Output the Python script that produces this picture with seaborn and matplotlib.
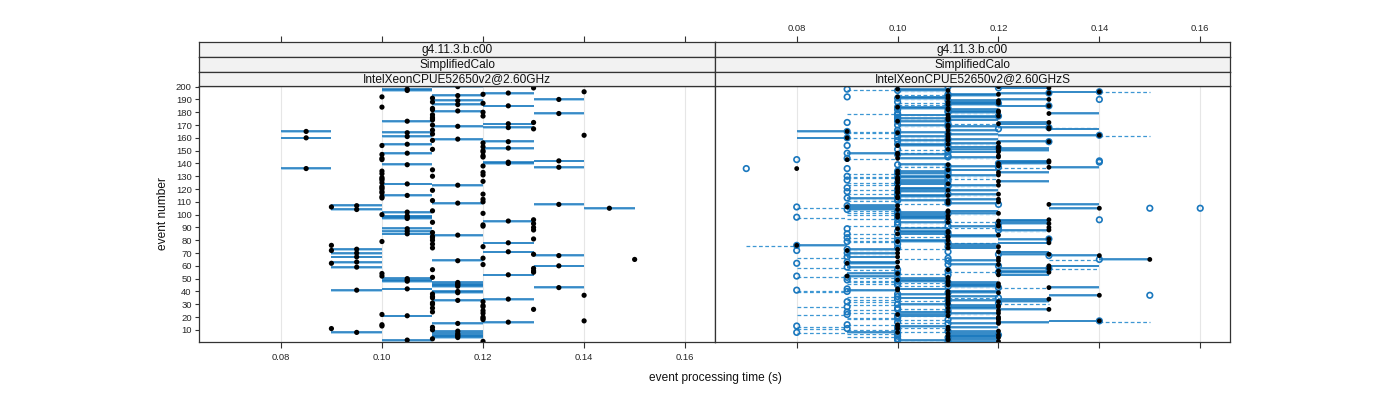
import numpy as np
import pandas as pd
import matplotlib
matplotlib.use("Agg")
import matplotlib.pyplot as plt
import seaborn as sns

sns.set_theme(style="white")
plt.rcParams['font.family'] = ['Liberation Sans', 'DejaVu Sans']

# ---------------- data ----------------
strip_top = "g4.11.3.b.c00"
strip_mid = "SimplifiedCalo"
panel_names = ["IntelXeonCPUE52650v2@2.60GHz", "IntelXeonCPUE52650v2@2.60GHzS"]
x_ticks = [0.08, 0.10, 0.12, 0.14, 0.16]
x_tick_labels = ["0.08", "0.10", "0.12", "0.14", "0.16"]
y_ticks = list(range(10, 201, 10))
events = list(range(1, 201))

# left panel: per-event time (ms) and its range
left_time_ms = [
    120,105,110,115,115,115,115,95,115,110,
    90,110,100,100,115,125,140,120,120,120,
    105,100,120,110,120,130,110,120,120,110,
    110,120,115,125,110,110,140,110,115,115,
    95,105,135,115,115,115,115,105,105,105,
    110,100,125,100,130,130,110,130,95,135,
    120,90,95,115,150,120,95,135,130,95,
    125,90,95,110,120,90,110,125,100,110,
    130,110,110,115,105,110,105,130,105,130,
    120,120,130,110,125,130,105,105,105,100,
    120,105,110,95,145,90,95,135,115,120,
    110,120,100,100,105,120,100,100,110,100,
    100,100,115,105,100,120,100,100,100,110,
    120,100,120,100,110,85,135,120,105,125,
    125,135,100,100,120,120,100,105,120,120,
    110,125,120,100,105,120,125,110,115,85,
    105,140,110,105,85,110,130,125,115,110,
    125,130,105,110,110,110,120,110,135,120,
    115,110,110,100,125,115,120,110,115,135,
    110,100,115,120,125,140,105,105,130,115]
left_lo_ms = [
    120,100,110,110,110,110,110,90,110,110,
    90,110,100,100,110,120,140,120,120,120,
    100,100,120,110,120,130,110,120,120,110,
    110,120,110,120,110,110,140,110,110,110,
    90,100,130,110,110,110,110,100,100,100,
    110,100,120,100,130,130,110,130,90,130,
    120,90,90,110,150,120,90,130,130,90,
    120,90,90,110,120,90,110,120,100,110,
    130,110,110,110,100,110,100,130,100,130,
    120,120,130,110,120,130,100,100,100,100,
    120,100,110,90,140,90,90,130,110,120,
    110,120,100,100,100,120,100,100,110,100,
    100,100,110,100,100,120,100,100,100,110,
    120,100,120,100,110,80,130,120,100,120,
    120,130,100,100,120,120,100,100,120,120,
    110,120,120,100,100,120,120,110,110,80,
    100,140,110,100,80,110,130,120,110,110,
    120,130,100,110,110,110,120,110,130,120,
    110,110,110,100,120,110,120,110,110,130,
    110,100,110,120,120,140,100,100,130,110]
left_hi_ms = [
    120,110,110,120,120,120,120,100,120,110,
    90,110,100,100,120,130,140,120,120,120,
    110,100,120,110,120,130,110,120,120,110,
    110,120,120,130,110,110,140,110,120,120,
    100,110,140,120,120,120,120,110,110,110,
    110,100,130,100,130,130,110,130,100,140,
    120,90,100,120,150,120,100,140,130,100,
    130,90,100,110,120,90,110,130,100,110,
    130,110,110,120,110,110,110,130,110,130,
    120,120,130,110,130,130,110,110,110,100,
    120,110,110,100,150,90,100,140,120,120,
    110,120,100,100,110,120,100,100,110,100,
    100,100,120,110,100,120,100,100,100,110,
    120,100,120,100,110,90,140,120,110,130,
    130,140,100,100,120,120,100,110,120,120,
    110,130,120,100,110,120,130,110,120,90,
    110,140,110,110,90,110,130,130,120,110,
    130,130,110,110,110,110,120,110,140,120,
    120,110,110,100,130,120,120,110,120,140,
    110,100,120,120,130,140,110,110,130,120]

# right panel: black point, end of solid segment, open point, end of dashed segment (ms)
right_black_ms = [
    120,110,110,120,110,120,110,100,120,110,
    100,110,100,100,120,120,140,120,120,120,
    110,100,120,110,120,130,110,120,120,110,
    110,120,110,130,110,110,140,110,120,110,
    100,100,130,120,110,120,110,110,100,110,
    110,90,120,100,130,120,110,130,100,130,
    120,90,100,120,150,120,100,140,130,100,
    120,90,100,110,120,80,110,130,100,110,
    130,110,110,120,100,110,110,130,100,130,
    120,120,130,110,120,130,110,100,110,100,
    120,110,110,100,140,90,100,130,110,120,
    110,120,100,100,110,120,100,100,110,100,
    100,100,120,110,100,120,100,100,100,110,
    120,100,120,100,110,80,130,120,110,120,
    130,130,90,100,120,120,100,100,120,120,
    110,120,120,100,110,120,130,110,110,90,
    110,140,110,100,90,110,130,130,110,110,
    120,130,100,110,110,110,120,110,130,120,
    120,110,110,100,130,110,120,110,120,130,
    110,100,110,120,130,140,110,100,130,120]
right_solid_end_ms = [
    110,100,120,110,120,110,120,90,110,110,
    100,120,110,100,110,130,130,120,110,120,
    100,110,110,100,120,120,120,110,110,100,
    110,130,120,120,100,120,130,100,110,120,
    90,110,140,110,120,110,120,100,110,100,
    110,100,130,90,120,130,110,120,90,140,
    110,100,90,110,140,120,90,130,120,90,
    130,90,90,120,110,90,120,120,110,100,
    120,110,120,110,110,100,100,120,110,130,
    110,120,120,100,130,120,100,110,100,110,
    110,100,120,90,130,100,90,140,120,120,
    100,110,90,110,100,110,100,110,120,110,
    110,100,110,100,110,130,110,100,110,100,
    110,110,130,110,120,80,140,110,100,130,
    120,120,90,110,110,120,110,90,110,130,
    120,130,110,110,100,110,120,100,120,80,
    100,120,120,110,80,120,140,120,120,100,
    130,120,110,120,100,120,110,100,140,110,
    110,120,100,110,120,120,110,120,110,120,
    100,110,120,110,120,130,100,110,120,110]
right_open_ms = [
    110,100,100,110,100,120,100,80,110,100,
    90,100,80,90,110,100,140,110,100,100,
    100,90,110,90,110,100,100,90,110,100,
    120,90,110,100,120,100,150,100,110,90,
    80,90,120,110,100,100,110,100,90,100,
    90,80,110,100,120,110,100,130,90,120,
    110,80,90,110,140,110,90,130,120,90,
    110,80,90,100,110,80,100,110,90,100,
    130,90,100,110,90,110,100,120,90,120,
    110,100,120,100,110,140,100,80,100,100,
    110,100,100,90,150,80,90,120,110,110,
    100,100,90,100,100,110,100,90,100,100,
    90,110,110,100,100,110,90,110,100,90,
    110,100,110,100,110,70,120,110,100,120,
    140,140,80,90,110,110,100,90,110,110,
    100,120,110,90,100,110,130,100,110,90,
    100,140,110,100,90,100,120,130,110,100,
    110,90,100,110,100,100,120,100,100,110,
    110,100,110,100,130,110,120,100,110,140,
    100,90,110,110,130,140,100,90,120,110]
right_dash_end_ms = [
    110,110,100,120,90,120,90,90,100,90,
    80,110,90,100,110,110,150,100,90,90,
    110,80,120,100,100,90,110,80,120,90,
    130,100,100,90,110,90,150,100,110,80,
    90,100,130,120,110,90,100,90,100,110,
    100,90,110,110,120,120,90,140,80,120,
    110,80,100,110,130,100,80,130,120,100,
    110,80,100,110,120,70,100,120,100,90,
    130,100,110,120,100,110,110,130,90,110,
    100,90,120,110,120,140,90,90,100,90,
    120,90,90,100,150,90,90,120,100,110,
    90,110,100,110,110,120,90,90,110,90,
    90,110,120,90,90,110,90,120,90,100,
    120,90,110,100,110,70,130,100,110,120,
    140,140,80,100,120,110,100,90,100,110,
    110,120,110,90,110,120,130,110,100,100,
    110,150,110,90,100,100,120,140,110,110,
    120,90,100,110,110,100,120,110,90,120,
    110,100,110,100,130,100,120,110,110,140,
    110,90,110,100,130,150,110,100,120,110]
right_extra_open_event = [105, 136]
right_extra_open_ms = [160, 90]

# ---------------- layout ----------------
W, H = 1400, 400
fig = plt.figure(figsize=(14, 4), dpi=100)
fig.patch.set_facecolor("white")

def rect(l, r, t, b):
    return [l / W, 1 - b / H, (r - l) / W, (b - t) / H]

xlim = (0.0638, 0.1659)
ylim = (0.5, 200.5)
frame_col = "#333333"
line_dark = "#1677bd"
line_light = "#9dcbea"
dash_col = "#3d97d3"
open_col = "#1a78be"
tick_fs = 6.8

panels = [(199, 715), (715, 1230)]
ptop, pbot = 86, 342
strip_edges = [42, 57, 71.5, 86]

def style_frame(a):
    for s in a.spines.values():
        s.set_color(frame_col)
        s.set_linewidth(0.9)

axes = []
for i, (l, r) in enumerate(panels):
    ax = fig.add_axes(rect(l, r, ptop, pbot))
    ax.set_xlim(*xlim)
    ax.set_ylim(*ylim)
    style_frame(ax)
    for xv in x_ticks:
        ax.axvline(xv, color="#e6e6e6", lw=0.8, zorder=0)
    ax.set_xticks(x_ticks)
    ax.tick_params(axis="x", direction="out", length=4.3, width=0.8, color=frame_col,
                   labelsize=tick_fs, pad=3.5, bottom=True, labelbottom=(i == 0))
    if i == 0:
        ax.set_xticklabels(x_tick_labels)
        ax.set_yticks(y_ticks)
        ax.set_yticklabels([str(v) for v in y_ticks])
        ax.tick_params(axis="y", direction="out", length=3.2, width=0.8, color=frame_col,
                       labelsize=tick_fs, pad=2, left=True)
    else:
        ax.set_yticks([])
    ax.set_xlabel("")
    ax.set_ylabel("")
    axes.append(ax)

    texts = [strip_top, strip_mid, panel_names[i]]
    for k in range(3):
        sa = fig.add_axes(rect(l, r, strip_edges[k], strip_edges[k + 1]))
        sa.set_facecolor("#f2f2f2")
        sa.set_xlim(*xlim)
        sa.set_ylim(0, 1)
        style_frame(sa)
        sa.set_yticks([])
        sa.text(0.5, 0.45, texts[k], transform=sa.transAxes, ha="center", va="center",
                fontsize=8.6, color="#111111")
        if k == 0:
            sa.set_xticks(x_ticks)
            sa.xaxis.set_ticks_position("top")
            sa.tick_params(axis="x", direction="out", length=4.3, width=0.8, color=frame_col,
                           labelsize=tick_fs, pad=2.5, top=True, bottom=False,
                           labeltop=(i == 1), labelbottom=False)
            if i == 1:
                sa.set_xticklabels(x_tick_labels)
        else:
            sa.set_xticks([])

# ---------------- left panel marks ----------------
ev = np.array(events, dtype=float)
ax = axes[0]
lo = np.array(left_lo_ms) / 1000
hi = np.array(left_hi_ms) / 1000
m = hi > lo
ax.hlines(ev[m] - 0.45, lo[m], hi[m], color=line_light, lw=1.3, zorder=2)
ax.hlines(ev[m] + 0.2, lo[m], hi[m], color=line_dark, lw=1.1, zorder=3)
df_left = pd.DataFrame({"t": np.array(left_time_ms) / 1000, "event": ev})
sns.scatterplot(data=df_left, x="t", y="event", ax=ax, color="black", s=14,
                edgecolor="none", zorder=5, legend=False)
ax.set_xlabel("")
ax.set_ylabel("")

# ---------------- right panel marks ----------------
ax = axes[1]
rb = np.array(right_black_ms) / 1000
rs = np.array(right_solid_end_ms) / 1000
ro = np.array(right_open_ms) / 1000
rd = np.array(right_dash_end_ms) / 1000
ms_ = rs != rb
s_lo = np.minimum(rb, rs)[ms_]
s_hi = np.maximum(rb, rs)[ms_]
md = rd != ro
d_lo = np.minimum(ro, rd)[md]
d_hi = np.maximum(ro, rd)[md]
ax.hlines(ev[md] - 0.5, d_lo, d_hi, color=dash_col, lw=0.9, linestyles=(0, (3, 2)), zorder=2)
ax.hlines(ev[ms_] - 0.45, s_lo, s_hi, color=line_light, lw=1.3, zorder=3)
ax.hlines(ev[ms_] + 0.2, s_lo, s_hi, color=line_dark, lw=1.1, zorder=3)
open_t = np.concatenate([ro, np.array(right_extra_open_ms) / 1000])
open_e = np.concatenate([ev, np.array(right_extra_open_event, dtype=float)])
df_open = pd.DataFrame({"t": open_t, "event": open_e})
sns.scatterplot(data=df_open, x="t", y="event", ax=ax, facecolor="none",
                edgecolor=open_col, linewidth=1.2, s=16, zorder=5, legend=False)
df_black = pd.DataFrame({"t": rb, "event": ev})
sns.scatterplot(data=df_black, x="t", y="event", ax=ax, color="black", s=12,
                edgecolor="none", zorder=6, legend=False)
ax.set_xlabel("")
ax.set_ylabel("")

fig.text(715 / W, 1 - 378 / H, "event processing time (s)", ha="center", va="center",
         fontsize=8.6, color="#111111")
fig.text(163 / W, 1 - 214 / H, "event number", ha="center", va="center",
         rotation=90, fontsize=8.6, color="#111111")

fig.savefig("out.png", dpi=100, facecolor="white")
